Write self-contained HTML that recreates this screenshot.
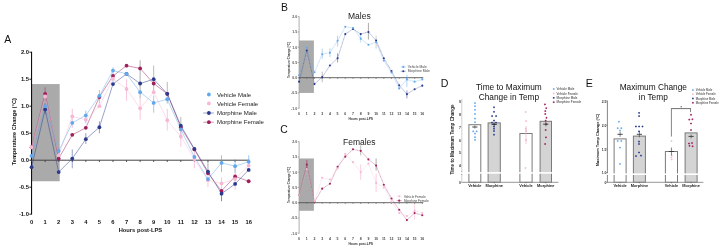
<!DOCTYPE html>
<html><head><meta charset="utf-8"><style>
html,body{margin:0;padding:0;background:#fff;width:720px;height:247px;overflow:hidden}
svg{display:block;filter:blur(0.3px)}
text{font-family:"Liberation Sans", sans-serif}
</style></head><body>
<svg width="720" height="247" viewBox="0 0 720 247">
<rect width="720" height="247" fill="#fff"/>
<rect x="31.55" y="84.06" width="28.14" height="97.20" fill="#aaaaaa" stroke="none" stroke-width="0"/>
<line x1="31.55" y1="51.80" x2="31.55" y2="214.60" stroke="#111" stroke-width="1.1"/>
<line x1="29.35" y1="52.20" x2="31.55" y2="52.20" stroke="#111" stroke-width="0.9"/>
<text x="28.95" y="54.30" font-size="5.8" text-anchor="end" font-weight="bold" fill="#111">2.0</text>
<line x1="29.35" y1="79.20" x2="31.55" y2="79.20" stroke="#111" stroke-width="0.9"/>
<text x="28.95" y="81.30" font-size="5.8" text-anchor="end" font-weight="bold" fill="#111">1.5</text>
<line x1="29.35" y1="106.20" x2="31.55" y2="106.20" stroke="#111" stroke-width="0.9"/>
<text x="28.95" y="108.30" font-size="5.8" text-anchor="end" font-weight="bold" fill="#111">1.0</text>
<line x1="29.35" y1="133.20" x2="31.55" y2="133.20" stroke="#111" stroke-width="0.9"/>
<text x="28.95" y="135.30" font-size="5.8" text-anchor="end" font-weight="bold" fill="#111">0.5</text>
<line x1="29.35" y1="160.20" x2="31.55" y2="160.20" stroke="#111" stroke-width="0.9"/>
<text x="28.95" y="162.30" font-size="5.8" text-anchor="end" font-weight="bold" fill="#111">0.0</text>
<line x1="29.35" y1="187.20" x2="31.55" y2="187.20" stroke="#111" stroke-width="0.9"/>
<text x="28.95" y="189.30" font-size="5.8" text-anchor="end" font-weight="bold" fill="#111">-0.5</text>
<line x1="29.35" y1="214.20" x2="31.55" y2="214.20" stroke="#111" stroke-width="0.9"/>
<text x="28.95" y="216.30" font-size="5.8" text-anchor="end" font-weight="bold" fill="#111">-1.0</text>
<line x1="31.55" y1="160.20" x2="249.67" y2="160.20" stroke="#444" stroke-width="1.0"/>
<line x1="31.55" y1="160.20" x2="31.55" y2="162.00" stroke="#333" stroke-width="0.8"/>
<text x="31.55" y="224.10" font-size="5.8" text-anchor="middle" font-weight="bold" fill="#111">0</text>
<line x1="45.12" y1="160.20" x2="45.12" y2="162.00" stroke="#333" stroke-width="0.8"/>
<text x="45.12" y="224.10" font-size="5.8" text-anchor="middle" font-weight="bold" fill="#111">1</text>
<line x1="58.69" y1="160.20" x2="58.69" y2="162.00" stroke="#333" stroke-width="0.8"/>
<text x="58.69" y="224.10" font-size="5.8" text-anchor="middle" font-weight="bold" fill="#111">2</text>
<line x1="72.26" y1="160.20" x2="72.26" y2="162.00" stroke="#333" stroke-width="0.8"/>
<text x="72.26" y="224.10" font-size="5.8" text-anchor="middle" font-weight="bold" fill="#111">3</text>
<line x1="85.83" y1="160.20" x2="85.83" y2="162.00" stroke="#333" stroke-width="0.8"/>
<text x="85.83" y="224.10" font-size="5.8" text-anchor="middle" font-weight="bold" fill="#111">4</text>
<line x1="99.40" y1="160.20" x2="99.40" y2="162.00" stroke="#333" stroke-width="0.8"/>
<text x="99.40" y="224.10" font-size="5.8" text-anchor="middle" font-weight="bold" fill="#111">5</text>
<line x1="112.97" y1="160.20" x2="112.97" y2="162.00" stroke="#333" stroke-width="0.8"/>
<text x="112.97" y="224.10" font-size="5.8" text-anchor="middle" font-weight="bold" fill="#111">6</text>
<line x1="126.54" y1="160.20" x2="126.54" y2="162.00" stroke="#333" stroke-width="0.8"/>
<text x="126.54" y="224.10" font-size="5.8" text-anchor="middle" font-weight="bold" fill="#111">7</text>
<line x1="140.11" y1="160.20" x2="140.11" y2="162.00" stroke="#333" stroke-width="0.8"/>
<text x="140.11" y="224.10" font-size="5.8" text-anchor="middle" font-weight="bold" fill="#111">8</text>
<line x1="153.68" y1="160.20" x2="153.68" y2="162.00" stroke="#333" stroke-width="0.8"/>
<text x="153.68" y="224.10" font-size="5.8" text-anchor="middle" font-weight="bold" fill="#111">9</text>
<line x1="167.25" y1="160.20" x2="167.25" y2="162.00" stroke="#333" stroke-width="0.8"/>
<text x="167.25" y="224.10" font-size="5.8" text-anchor="middle" font-weight="bold" fill="#111">10</text>
<line x1="180.82" y1="160.20" x2="180.82" y2="162.00" stroke="#333" stroke-width="0.8"/>
<text x="180.82" y="224.10" font-size="5.8" text-anchor="middle" font-weight="bold" fill="#111">11</text>
<line x1="194.39" y1="160.20" x2="194.39" y2="162.00" stroke="#333" stroke-width="0.8"/>
<text x="194.39" y="224.10" font-size="5.8" text-anchor="middle" font-weight="bold" fill="#111">12</text>
<line x1="207.96" y1="160.20" x2="207.96" y2="162.00" stroke="#333" stroke-width="0.8"/>
<text x="207.96" y="224.10" font-size="5.8" text-anchor="middle" font-weight="bold" fill="#111">13</text>
<line x1="221.53" y1="160.20" x2="221.53" y2="162.00" stroke="#333" stroke-width="0.8"/>
<text x="221.53" y="224.10" font-size="5.8" text-anchor="middle" font-weight="bold" fill="#111">14</text>
<line x1="235.10" y1="160.20" x2="235.10" y2="162.00" stroke="#333" stroke-width="0.8"/>
<text x="235.10" y="224.10" font-size="5.8" text-anchor="middle" font-weight="bold" fill="#111">15</text>
<line x1="248.67" y1="160.20" x2="248.67" y2="162.00" stroke="#333" stroke-width="0.8"/>
<text x="248.67" y="224.10" font-size="5.8" text-anchor="middle" font-weight="bold" fill="#111">16</text>
<text x="140.41" y="231.90" font-size="5.75" text-anchor="middle" font-weight="bold" fill="#111">Hours post-LPS</text>
<text x="16.30" y="131.70" font-size="5.6" text-anchor="middle" font-weight="bold" fill="#111" transform="rotate(-90 16.3 131.7)">Temperature Change (°C)</text>
<text x="4.20" y="43.40" font-size="10.5" text-anchor="start" font-weight="normal" fill="#111">A</text>
<line x1="45.12" y1="87.30" x2="45.12" y2="100.80" stroke="#a01e5c" stroke-width="0.5"/>
<line x1="45.12" y1="103.50" x2="45.12" y2="114.30" stroke="#2a3a8e" stroke-width="0.5"/>
<line x1="72.26" y1="108.90" x2="72.26" y2="127.80" stroke="#f6b9d4" stroke-width="0.9"/>
<line x1="72.26" y1="149.40" x2="72.26" y2="168.30" stroke="#2a3a8e" stroke-width="0.5"/>
<line x1="85.83" y1="110.52" x2="85.83" y2="123.48" stroke="#62a8ec" stroke-width="0.6"/>
<line x1="85.83" y1="133.20" x2="85.83" y2="144.00" stroke="#2a3a8e" stroke-width="0.5"/>
<line x1="99.40" y1="121.32" x2="99.40" y2="133.20" stroke="#2a3a8e" stroke-width="0.5"/>
<line x1="99.40" y1="90.00" x2="99.40" y2="103.50" stroke="#999" stroke-width="0.6"/>
<line x1="112.97" y1="67.32" x2="112.97" y2="81.90" stroke="#62a8ec" stroke-width="0.6"/>
<line x1="126.54" y1="79.20" x2="126.54" y2="100.80" stroke="#f6b9d4" stroke-width="0.8"/>
<line x1="140.11" y1="60.30" x2="140.11" y2="98.10" stroke="#777" stroke-width="0.6"/>
<line x1="140.11" y1="98.10" x2="140.11" y2="119.70" stroke="#f6b9d4" stroke-width="0.8"/>
<line x1="153.68" y1="65.70" x2="153.68" y2="91.08" stroke="#888" stroke-width="0.6"/>
<line x1="153.68" y1="95.40" x2="153.68" y2="112.68" stroke="#62a8ec" stroke-width="0.6"/>
<line x1="167.25" y1="81.90" x2="167.25" y2="103.50" stroke="#888" stroke-width="0.6"/>
<line x1="167.25" y1="108.90" x2="167.25" y2="130.50" stroke="#f6b9d4" stroke-width="0.8"/>
<line x1="180.82" y1="117.00" x2="180.82" y2="138.60" stroke="#888" stroke-width="0.6"/>
<line x1="180.82" y1="127.80" x2="180.82" y2="146.70" stroke="#f6b9d4" stroke-width="0.8"/>
<line x1="194.39" y1="149.40" x2="194.39" y2="168.30" stroke="#f6b9d4" stroke-width="0.8"/>
<line x1="207.96" y1="171.00" x2="207.96" y2="187.20" stroke="#f6b9d4" stroke-width="0.8"/>
<line x1="221.53" y1="155.34" x2="221.53" y2="172.08" stroke="#62a8ec" stroke-width="0.7"/>
<line x1="221.53" y1="177.48" x2="221.53" y2="188.82" stroke="#f6b9d4" stroke-width="0.8"/>
<line x1="221.53" y1="189.90" x2="221.53" y2="201.24" stroke="#2a3a8e" stroke-width="0.6"/>
<line x1="207.96" y1="160.20" x2="207.96" y2="175.32" stroke="#777" stroke-width="0.6"/>
<line x1="235.10" y1="168.30" x2="235.10" y2="189.90" stroke="#f6b9d4" stroke-width="0.8"/>
<line x1="235.10" y1="159.12" x2="235.10" y2="172.62" stroke="#62a8ec" stroke-width="0.6"/>
<line x1="248.67" y1="155.34" x2="248.67" y2="167.22" stroke="#62a8ec" stroke-width="0.6"/>
<polyline points="31.55,147.24 45.12,93.78 58.69,158.58 72.26,134.82 85.83,127.80 99.40,97.02 112.97,75.96 126.54,65.70 140.11,68.40 153.68,83.52 167.25,93.78 180.82,127.26 194.39,149.40 207.96,173.16 221.53,190.98 235.10,176.40 248.67,181.26" fill="none" stroke="#a01e5c" stroke-width="0.6" stroke-opacity="0.8"/>
<polyline points="31.55,167.22 45.12,109.44 58.69,172.08 72.26,158.58 85.83,139.14 99.40,127.26 112.97,84.06 126.54,73.80 140.11,83.52 153.68,79.20 167.25,93.78 180.82,125.64 194.39,148.86 207.96,171.54 221.53,193.68 235.10,183.96 248.67,169.92" fill="none" stroke="#2a3a8e" stroke-width="0.6" stroke-opacity="0.8"/>
<polyline points="31.55,147.24 45.12,96.48 58.69,155.34 72.26,116.46 85.83,119.70 99.40,106.20 112.97,78.66 126.54,88.92 140.11,108.36 153.68,92.16 167.25,120.24 180.82,136.44 194.39,159.12 207.96,180.18 221.53,183.42 235.10,179.10 248.67,165.60" fill="none" stroke="#f6b9d4" stroke-width="0.6" stroke-opacity="0.8"/>
<polyline points="31.55,155.88 45.12,106.20 58.69,151.02 72.26,122.94 85.83,115.38 99.40,95.94 112.97,70.56 126.54,73.80 140.11,92.16 153.68,102.96 167.25,99.18 180.82,129.42 194.39,156.96 207.96,179.10 221.53,162.90 235.10,166.14 248.67,161.82" fill="none" stroke="#62a8ec" stroke-width="0.6" stroke-opacity="0.8"/>
<circle cx="31.55" cy="147.24" r="1.9" fill="#a01e5c"/>
<circle cx="45.12" cy="93.78" r="1.9" fill="#a01e5c"/>
<circle cx="58.69" cy="158.58" r="1.9" fill="#a01e5c"/>
<circle cx="72.26" cy="134.82" r="1.9" fill="#a01e5c"/>
<circle cx="85.83" cy="127.80" r="1.9" fill="#a01e5c"/>
<circle cx="99.40" cy="97.02" r="1.9" fill="#a01e5c"/>
<circle cx="112.97" cy="75.96" r="1.9" fill="#a01e5c"/>
<circle cx="126.54" cy="65.70" r="1.9" fill="#a01e5c"/>
<circle cx="140.11" cy="68.40" r="1.9" fill="#a01e5c"/>
<circle cx="153.68" cy="83.52" r="1.9" fill="#a01e5c"/>
<circle cx="167.25" cy="93.78" r="1.9" fill="#a01e5c"/>
<circle cx="180.82" cy="127.26" r="1.9" fill="#a01e5c"/>
<circle cx="194.39" cy="149.40" r="1.9" fill="#a01e5c"/>
<circle cx="207.96" cy="173.16" r="1.9" fill="#a01e5c"/>
<circle cx="221.53" cy="190.98" r="1.9" fill="#a01e5c"/>
<circle cx="235.10" cy="176.40" r="1.9" fill="#a01e5c"/>
<circle cx="248.67" cy="181.26" r="1.9" fill="#a01e5c"/>
<circle cx="31.55" cy="167.22" r="1.9" fill="#2a3a8e"/>
<circle cx="45.12" cy="109.44" r="1.9" fill="#2a3a8e"/>
<circle cx="58.69" cy="172.08" r="1.9" fill="#2a3a8e"/>
<circle cx="72.26" cy="158.58" r="1.9" fill="#2a3a8e"/>
<circle cx="85.83" cy="139.14" r="1.9" fill="#2a3a8e"/>
<circle cx="99.40" cy="127.26" r="1.9" fill="#2a3a8e"/>
<circle cx="112.97" cy="84.06" r="1.9" fill="#2a3a8e"/>
<circle cx="126.54" cy="73.80" r="1.9" fill="#2a3a8e"/>
<circle cx="140.11" cy="83.52" r="1.9" fill="#2a3a8e"/>
<circle cx="153.68" cy="79.20" r="1.9" fill="#2a3a8e"/>
<circle cx="167.25" cy="93.78" r="1.9" fill="#2a3a8e"/>
<circle cx="180.82" cy="125.64" r="1.9" fill="#2a3a8e"/>
<circle cx="194.39" cy="148.86" r="1.9" fill="#2a3a8e"/>
<circle cx="207.96" cy="171.54" r="1.9" fill="#2a3a8e"/>
<circle cx="221.53" cy="193.68" r="1.9" fill="#2a3a8e"/>
<circle cx="235.10" cy="183.96" r="1.9" fill="#2a3a8e"/>
<circle cx="248.67" cy="169.92" r="1.9" fill="#2a3a8e"/>
<circle cx="31.55" cy="147.24" r="1.9" fill="#f6b9d4"/>
<circle cx="45.12" cy="96.48" r="1.9" fill="#f6b9d4"/>
<circle cx="58.69" cy="155.34" r="1.9" fill="#f6b9d4"/>
<circle cx="72.26" cy="116.46" r="1.9" fill="#f6b9d4"/>
<circle cx="85.83" cy="119.70" r="1.9" fill="#f6b9d4"/>
<circle cx="99.40" cy="106.20" r="1.9" fill="#f6b9d4"/>
<circle cx="112.97" cy="78.66" r="1.9" fill="#f6b9d4"/>
<circle cx="126.54" cy="88.92" r="1.9" fill="#f6b9d4"/>
<circle cx="140.11" cy="108.36" r="1.9" fill="#f6b9d4"/>
<circle cx="153.68" cy="92.16" r="1.9" fill="#f6b9d4"/>
<circle cx="167.25" cy="120.24" r="1.9" fill="#f6b9d4"/>
<circle cx="180.82" cy="136.44" r="1.9" fill="#f6b9d4"/>
<circle cx="194.39" cy="159.12" r="1.9" fill="#f6b9d4"/>
<circle cx="207.96" cy="180.18" r="1.9" fill="#f6b9d4"/>
<circle cx="221.53" cy="183.42" r="1.9" fill="#f6b9d4"/>
<circle cx="235.10" cy="179.10" r="1.9" fill="#f6b9d4"/>
<circle cx="248.67" cy="165.60" r="1.9" fill="#f6b9d4"/>
<circle cx="31.55" cy="155.88" r="1.9" fill="#62a8ec"/>
<circle cx="45.12" cy="106.20" r="1.9" fill="#62a8ec"/>
<circle cx="58.69" cy="151.02" r="1.9" fill="#62a8ec"/>
<circle cx="72.26" cy="122.94" r="1.9" fill="#62a8ec"/>
<circle cx="85.83" cy="115.38" r="1.9" fill="#62a8ec"/>
<circle cx="99.40" cy="95.94" r="1.9" fill="#62a8ec"/>
<circle cx="112.97" cy="70.56" r="1.9" fill="#62a8ec"/>
<circle cx="126.54" cy="73.80" r="1.9" fill="#62a8ec"/>
<circle cx="140.11" cy="92.16" r="1.9" fill="#62a8ec"/>
<circle cx="153.68" cy="102.96" r="1.9" fill="#62a8ec"/>
<circle cx="167.25" cy="99.18" r="1.9" fill="#62a8ec"/>
<circle cx="180.82" cy="129.42" r="1.9" fill="#62a8ec"/>
<circle cx="194.39" cy="156.96" r="1.9" fill="#62a8ec"/>
<circle cx="207.96" cy="179.10" r="1.9" fill="#62a8ec"/>
<circle cx="221.53" cy="162.90" r="1.9" fill="#62a8ec"/>
<circle cx="235.10" cy="166.14" r="1.9" fill="#62a8ec"/>
<circle cx="248.67" cy="161.82" r="1.9" fill="#62a8ec"/>
<circle cx="208.90" cy="94.50" r="1.9" fill="#62a8ec"/>
<text x="216.90" y="96.70" font-size="6.05" text-anchor="start" font-weight="normal" fill="#222">Vehicle Male</text>
<circle cx="208.90" cy="103.40" r="1.9" fill="#f6b9d4"/>
<text x="216.90" y="105.60" font-size="6.05" text-anchor="start" font-weight="normal" fill="#222">Vehicle Female</text>
<line x1="203.30" y1="113.00" x2="213.80" y2="113.00" stroke="#2a3a8e" stroke-width="0.9" stroke-opacity="0.55"/>
<circle cx="208.90" cy="113.00" r="1.9" fill="#2a3a8e"/>
<text x="216.90" y="115.20" font-size="6.05" text-anchor="start" font-weight="normal" fill="#222">Morphine Male</text>
<line x1="203.30" y1="122.20" x2="213.80" y2="122.20" stroke="#a01e5c" stroke-width="0.9" stroke-opacity="0.55"/>
<circle cx="208.90" cy="122.20" r="1.9" fill="#a01e5c"/>
<text x="216.90" y="124.40" font-size="6.05" text-anchor="start" font-weight="normal" fill="#222">Morphine Female</text>
<rect x="299.10" y="40.49" width="14.80" height="52.46" fill="#aaaaaa" stroke="none" stroke-width="0"/>
<line x1="299.10" y1="16.40" x2="299.10" y2="108.50" stroke="#999" stroke-width="0.8"/>
<line x1="297.70" y1="16.70" x2="299.10" y2="16.70" stroke="#777" stroke-width="0.6"/>
<text x="297.10" y="18.00" font-size="3.5" text-anchor="end" font-weight="bold" fill="#555">2.0</text>
<line x1="297.70" y1="31.95" x2="299.10" y2="31.95" stroke="#777" stroke-width="0.6"/>
<text x="297.10" y="33.25" font-size="3.5" text-anchor="end" font-weight="bold" fill="#555">1.5</text>
<line x1="297.70" y1="47.20" x2="299.10" y2="47.20" stroke="#777" stroke-width="0.6"/>
<text x="297.10" y="48.50" font-size="3.5" text-anchor="end" font-weight="bold" fill="#555">1.0</text>
<line x1="297.70" y1="62.45" x2="299.10" y2="62.45" stroke="#777" stroke-width="0.6"/>
<text x="297.10" y="63.75" font-size="3.5" text-anchor="end" font-weight="bold" fill="#555">0.5</text>
<line x1="297.70" y1="77.70" x2="299.10" y2="77.70" stroke="#777" stroke-width="0.6"/>
<text x="297.10" y="79.00" font-size="3.5" text-anchor="end" font-weight="bold" fill="#555">0.0</text>
<line x1="297.70" y1="92.95" x2="299.10" y2="92.95" stroke="#777" stroke-width="0.6"/>
<text x="297.10" y="94.25" font-size="3.5" text-anchor="end" font-weight="bold" fill="#555">-0.5</text>
<line x1="297.70" y1="108.20" x2="299.10" y2="108.20" stroke="#777" stroke-width="0.6"/>
<text x="297.10" y="109.50" font-size="3.5" text-anchor="end" font-weight="bold" fill="#555">-1.0</text>
<line x1="299.10" y1="77.70" x2="423.30" y2="77.70" stroke="#555" stroke-width="0.9"/>
<line x1="299.10" y1="77.70" x2="299.10" y2="78.90" stroke="#555" stroke-width="0.6"/>
<text x="299.10" y="115.20" font-size="3.5" text-anchor="middle" font-weight="bold" fill="#444">0</text>
<line x1="306.80" y1="77.70" x2="306.80" y2="78.90" stroke="#555" stroke-width="0.6"/>
<text x="306.80" y="115.20" font-size="3.5" text-anchor="middle" font-weight="bold" fill="#444">1</text>
<line x1="314.50" y1="77.70" x2="314.50" y2="78.90" stroke="#555" stroke-width="0.6"/>
<text x="314.50" y="115.20" font-size="3.5" text-anchor="middle" font-weight="bold" fill="#444">2</text>
<line x1="322.20" y1="77.70" x2="322.20" y2="78.90" stroke="#555" stroke-width="0.6"/>
<text x="322.20" y="115.20" font-size="3.5" text-anchor="middle" font-weight="bold" fill="#444">3</text>
<line x1="329.90" y1="77.70" x2="329.90" y2="78.90" stroke="#555" stroke-width="0.6"/>
<text x="329.90" y="115.20" font-size="3.5" text-anchor="middle" font-weight="bold" fill="#444">4</text>
<line x1="337.60" y1="77.70" x2="337.60" y2="78.90" stroke="#555" stroke-width="0.6"/>
<text x="337.60" y="115.20" font-size="3.5" text-anchor="middle" font-weight="bold" fill="#444">5</text>
<line x1="345.30" y1="77.70" x2="345.30" y2="78.90" stroke="#555" stroke-width="0.6"/>
<text x="345.30" y="115.20" font-size="3.5" text-anchor="middle" font-weight="bold" fill="#444">6</text>
<line x1="353.00" y1="77.70" x2="353.00" y2="78.90" stroke="#555" stroke-width="0.6"/>
<text x="353.00" y="115.20" font-size="3.5" text-anchor="middle" font-weight="bold" fill="#444">7</text>
<line x1="360.70" y1="77.70" x2="360.70" y2="78.90" stroke="#555" stroke-width="0.6"/>
<text x="360.70" y="115.20" font-size="3.5" text-anchor="middle" font-weight="bold" fill="#444">8</text>
<line x1="368.40" y1="77.70" x2="368.40" y2="78.90" stroke="#555" stroke-width="0.6"/>
<text x="368.40" y="115.20" font-size="3.5" text-anchor="middle" font-weight="bold" fill="#444">9</text>
<line x1="376.10" y1="77.70" x2="376.10" y2="78.90" stroke="#555" stroke-width="0.6"/>
<text x="376.10" y="115.20" font-size="3.5" text-anchor="middle" font-weight="bold" fill="#444">10</text>
<line x1="383.80" y1="77.70" x2="383.80" y2="78.90" stroke="#555" stroke-width="0.6"/>
<text x="383.80" y="115.20" font-size="3.5" text-anchor="middle" font-weight="bold" fill="#444">11</text>
<line x1="391.50" y1="77.70" x2="391.50" y2="78.90" stroke="#555" stroke-width="0.6"/>
<text x="391.50" y="115.20" font-size="3.5" text-anchor="middle" font-weight="bold" fill="#444">12</text>
<line x1="399.20" y1="77.70" x2="399.20" y2="78.90" stroke="#555" stroke-width="0.6"/>
<text x="399.20" y="115.20" font-size="3.5" text-anchor="middle" font-weight="bold" fill="#444">13</text>
<line x1="406.90" y1="77.70" x2="406.90" y2="78.90" stroke="#555" stroke-width="0.6"/>
<text x="406.90" y="115.20" font-size="3.5" text-anchor="middle" font-weight="bold" fill="#444">14</text>
<line x1="414.60" y1="77.70" x2="414.60" y2="78.90" stroke="#555" stroke-width="0.6"/>
<text x="414.60" y="115.20" font-size="3.5" text-anchor="middle" font-weight="bold" fill="#444">15</text>
<line x1="422.30" y1="77.70" x2="422.30" y2="78.90" stroke="#555" stroke-width="0.6"/>
<text x="422.30" y="115.20" font-size="3.5" text-anchor="middle" font-weight="bold" fill="#444">16</text>
<text x="360.70" y="119.90" font-size="3.25" text-anchor="middle" font-weight="bold" fill="#333">Hours post-LPS</text>
<text x="290.00" y="60.00" font-size="3.0" text-anchor="middle" font-weight="bold" fill="#333" transform="rotate(-90 290.0 60.0)">Temperature Change (°C)</text>
<text x="280.90" y="11.00" font-size="10.4" text-anchor="start" font-weight="normal" fill="#111">B</text>
<text x="359.30" y="18.90" font-size="8.5" text-anchor="middle" font-weight="normal" fill="#222">Males</text>
<line x1="368.40" y1="22.80" x2="368.40" y2="39.58" stroke="#555" stroke-width="0.5"/>
<line x1="337.60" y1="53.30" x2="337.60" y2="62.45" stroke="#2a3a8e" stroke-width="0.5"/>
<line x1="322.20" y1="71.60" x2="322.20" y2="82.28" stroke="#777" stroke-width="0.5"/>
<line x1="376.10" y1="35.61" x2="376.10" y2="48.73" stroke="#888" stroke-width="0.4"/>
<line x1="406.90" y1="74.65" x2="406.90" y2="86.85" stroke="#62a8ec" stroke-width="0.5"/>
<line x1="322.20" y1="48.73" x2="322.20" y2="58.79" stroke="#62a8ec" stroke-width="0.5"/>
<line x1="329.90" y1="48.42" x2="329.90" y2="56.96" stroke="#62a8ec" stroke-width="0.5"/>
<line x1="337.60" y1="35.61" x2="337.60" y2="46.59" stroke="#62a8ec" stroke-width="0.5"/>
<line x1="406.90" y1="90.51" x2="406.90" y2="98.44" stroke="#2a3a8e" stroke-width="0.5"/>
<line x1="360.70" y1="35.00" x2="360.70" y2="42.63" stroke="#62a8ec" stroke-width="0.4"/>
<polyline points="299.10,81.67 306.80,50.56 314.50,84.11 322.20,77.09 329.90,65.50 337.60,58.18 345.30,34.09 353.00,28.90 360.70,34.09 368.40,31.95 376.10,40.49 383.80,58.18 391.50,70.99 399.20,85.33 406.90,94.17 414.60,89.29 422.30,85.63" fill="none" stroke="#2a3a8e" stroke-width="0.5" stroke-dasharray="1.0,0.4" stroke-opacity="0.8"/>
<polyline points="299.10,75.26 306.80,47.51 314.50,72.21 322.20,54.22 329.90,52.69 337.60,40.80 345.30,26.77 353.00,27.99 360.70,38.66 368.40,44.76 376.10,42.32 383.80,60.62 391.50,72.52 399.20,88.38 406.90,79.53 414.60,81.67 422.30,79.53" fill="none" stroke="#62a8ec" stroke-width="0.5" stroke-dasharray="1.0,0.4" stroke-opacity="0.8"/>
<circle cx="299.10" cy="81.67" r="1.05" fill="#2a3a8e"/>
<circle cx="306.80" cy="50.56" r="1.05" fill="#2a3a8e"/>
<circle cx="314.50" cy="84.11" r="1.05" fill="#2a3a8e"/>
<circle cx="322.20" cy="77.09" r="1.05" fill="#2a3a8e"/>
<circle cx="329.90" cy="65.50" r="1.05" fill="#2a3a8e"/>
<circle cx="337.60" cy="58.18" r="1.05" fill="#2a3a8e"/>
<circle cx="345.30" cy="34.09" r="1.05" fill="#2a3a8e"/>
<circle cx="353.00" cy="28.90" r="1.05" fill="#2a3a8e"/>
<circle cx="360.70" cy="34.09" r="1.05" fill="#2a3a8e"/>
<circle cx="368.40" cy="31.95" r="1.05" fill="#2a3a8e"/>
<circle cx="376.10" cy="40.49" r="1.05" fill="#2a3a8e"/>
<circle cx="383.80" cy="58.18" r="1.05" fill="#2a3a8e"/>
<circle cx="391.50" cy="70.99" r="1.05" fill="#2a3a8e"/>
<circle cx="399.20" cy="85.33" r="1.05" fill="#2a3a8e"/>
<circle cx="406.90" cy="94.17" r="1.05" fill="#2a3a8e"/>
<circle cx="414.60" cy="89.29" r="1.05" fill="#2a3a8e"/>
<circle cx="422.30" cy="85.63" r="1.05" fill="#2a3a8e"/>
<circle cx="299.10" cy="75.26" r="1.05" fill="#62a8ec"/>
<circle cx="306.80" cy="47.51" r="1.05" fill="#62a8ec"/>
<circle cx="314.50" cy="72.21" r="1.05" fill="#62a8ec"/>
<circle cx="322.20" cy="54.22" r="1.05" fill="#62a8ec"/>
<circle cx="329.90" cy="52.69" r="1.05" fill="#62a8ec"/>
<circle cx="337.60" cy="40.80" r="1.05" fill="#62a8ec"/>
<circle cx="345.30" cy="26.77" r="1.05" fill="#62a8ec"/>
<circle cx="353.00" cy="27.99" r="1.05" fill="#62a8ec"/>
<circle cx="360.70" cy="38.66" r="1.05" fill="#62a8ec"/>
<circle cx="368.40" cy="44.76" r="1.05" fill="#62a8ec"/>
<circle cx="376.10" cy="42.32" r="1.05" fill="#62a8ec"/>
<circle cx="383.80" cy="60.62" r="1.05" fill="#62a8ec"/>
<circle cx="391.50" cy="72.52" r="1.05" fill="#62a8ec"/>
<circle cx="399.20" cy="88.38" r="1.05" fill="#62a8ec"/>
<circle cx="406.90" cy="79.53" r="1.05" fill="#62a8ec"/>
<circle cx="414.60" cy="81.67" r="1.05" fill="#62a8ec"/>
<circle cx="422.30" cy="79.53" r="1.05" fill="#62a8ec"/>
<line x1="400.70" y1="66.90" x2="405.90" y2="66.90" stroke="#62a8ec" stroke-width="0.6" stroke-opacity="0.6"/>
<circle cx="403.30" cy="66.90" r="1.05" fill="#62a8ec"/>
<text x="407.80" y="68.10" font-size="3.35" text-anchor="start" font-weight="normal" fill="#444">Vehicle Male</text>
<line x1="400.70" y1="71.25" x2="405.90" y2="71.25" stroke="#2a3a8e" stroke-width="0.6" stroke-opacity="0.6"/>
<circle cx="403.30" cy="71.25" r="1.05" fill="#2a3a8e"/>
<text x="407.80" y="72.45" font-size="3.35" text-anchor="start" font-weight="normal" fill="#444">Morphine Male</text>
<rect x="299.10" y="158.47" width="14.80" height="52.31" fill="#aaaaaa" stroke="none" stroke-width="0"/>
<line x1="299.10" y1="141.40" x2="299.10" y2="233.50" stroke="#999" stroke-width="0.8"/>
<line x1="297.70" y1="141.70" x2="299.10" y2="141.70" stroke="#777" stroke-width="0.6"/>
<text x="297.10" y="143.00" font-size="3.5" text-anchor="end" font-weight="bold" fill="#555">2.0</text>
<line x1="297.70" y1="156.95" x2="299.10" y2="156.95" stroke="#777" stroke-width="0.6"/>
<text x="297.10" y="158.25" font-size="3.5" text-anchor="end" font-weight="bold" fill="#555">1.5</text>
<line x1="297.70" y1="172.20" x2="299.10" y2="172.20" stroke="#777" stroke-width="0.6"/>
<text x="297.10" y="173.50" font-size="3.5" text-anchor="end" font-weight="bold" fill="#555">1.0</text>
<line x1="297.70" y1="187.45" x2="299.10" y2="187.45" stroke="#777" stroke-width="0.6"/>
<text x="297.10" y="188.75" font-size="3.5" text-anchor="end" font-weight="bold" fill="#555">0.5</text>
<line x1="297.70" y1="202.70" x2="299.10" y2="202.70" stroke="#777" stroke-width="0.6"/>
<text x="297.10" y="204.00" font-size="3.5" text-anchor="end" font-weight="bold" fill="#555">0.0</text>
<line x1="297.70" y1="217.95" x2="299.10" y2="217.95" stroke="#777" stroke-width="0.6"/>
<text x="297.10" y="219.25" font-size="3.5" text-anchor="end" font-weight="bold" fill="#555">-0.5</text>
<line x1="297.70" y1="233.20" x2="299.10" y2="233.20" stroke="#777" stroke-width="0.6"/>
<text x="297.10" y="234.50" font-size="3.5" text-anchor="end" font-weight="bold" fill="#555">-1.0</text>
<line x1="299.10" y1="202.70" x2="423.30" y2="202.70" stroke="#555" stroke-width="0.9"/>
<line x1="299.10" y1="202.70" x2="299.10" y2="203.90" stroke="#555" stroke-width="0.6"/>
<text x="299.10" y="240.20" font-size="3.5" text-anchor="middle" font-weight="bold" fill="#444">0</text>
<line x1="306.80" y1="202.70" x2="306.80" y2="203.90" stroke="#555" stroke-width="0.6"/>
<text x="306.80" y="240.20" font-size="3.5" text-anchor="middle" font-weight="bold" fill="#444">1</text>
<line x1="314.50" y1="202.70" x2="314.50" y2="203.90" stroke="#555" stroke-width="0.6"/>
<text x="314.50" y="240.20" font-size="3.5" text-anchor="middle" font-weight="bold" fill="#444">2</text>
<line x1="322.20" y1="202.70" x2="322.20" y2="203.90" stroke="#555" stroke-width="0.6"/>
<text x="322.20" y="240.20" font-size="3.5" text-anchor="middle" font-weight="bold" fill="#444">3</text>
<line x1="329.90" y1="202.70" x2="329.90" y2="203.90" stroke="#555" stroke-width="0.6"/>
<text x="329.90" y="240.20" font-size="3.5" text-anchor="middle" font-weight="bold" fill="#444">4</text>
<line x1="337.60" y1="202.70" x2="337.60" y2="203.90" stroke="#555" stroke-width="0.6"/>
<text x="337.60" y="240.20" font-size="3.5" text-anchor="middle" font-weight="bold" fill="#444">5</text>
<line x1="345.30" y1="202.70" x2="345.30" y2="203.90" stroke="#555" stroke-width="0.6"/>
<text x="345.30" y="240.20" font-size="3.5" text-anchor="middle" font-weight="bold" fill="#444">6</text>
<line x1="353.00" y1="202.70" x2="353.00" y2="203.90" stroke="#555" stroke-width="0.6"/>
<text x="353.00" y="240.20" font-size="3.5" text-anchor="middle" font-weight="bold" fill="#444">7</text>
<line x1="360.70" y1="202.70" x2="360.70" y2="203.90" stroke="#555" stroke-width="0.6"/>
<text x="360.70" y="240.20" font-size="3.5" text-anchor="middle" font-weight="bold" fill="#444">8</text>
<line x1="368.40" y1="202.70" x2="368.40" y2="203.90" stroke="#555" stroke-width="0.6"/>
<text x="368.40" y="240.20" font-size="3.5" text-anchor="middle" font-weight="bold" fill="#444">9</text>
<line x1="376.10" y1="202.70" x2="376.10" y2="203.90" stroke="#555" stroke-width="0.6"/>
<text x="376.10" y="240.20" font-size="3.5" text-anchor="middle" font-weight="bold" fill="#444">10</text>
<line x1="383.80" y1="202.70" x2="383.80" y2="203.90" stroke="#555" stroke-width="0.6"/>
<text x="383.80" y="240.20" font-size="3.5" text-anchor="middle" font-weight="bold" fill="#444">11</text>
<line x1="391.50" y1="202.70" x2="391.50" y2="203.90" stroke="#555" stroke-width="0.6"/>
<text x="391.50" y="240.20" font-size="3.5" text-anchor="middle" font-weight="bold" fill="#444">12</text>
<line x1="399.20" y1="202.70" x2="399.20" y2="203.90" stroke="#555" stroke-width="0.6"/>
<text x="399.20" y="240.20" font-size="3.5" text-anchor="middle" font-weight="bold" fill="#444">13</text>
<line x1="406.90" y1="202.70" x2="406.90" y2="203.90" stroke="#555" stroke-width="0.6"/>
<text x="406.90" y="240.20" font-size="3.5" text-anchor="middle" font-weight="bold" fill="#444">14</text>
<line x1="414.60" y1="202.70" x2="414.60" y2="203.90" stroke="#555" stroke-width="0.6"/>
<text x="414.60" y="240.20" font-size="3.5" text-anchor="middle" font-weight="bold" fill="#444">15</text>
<line x1="422.30" y1="202.70" x2="422.30" y2="203.90" stroke="#555" stroke-width="0.6"/>
<text x="422.30" y="240.20" font-size="3.5" text-anchor="middle" font-weight="bold" fill="#444">16</text>
<text x="360.70" y="244.90" font-size="3.25" text-anchor="middle" font-weight="bold" fill="#333">Hours post-LPS</text>
<text x="290.00" y="185.00" font-size="3.0" text-anchor="middle" font-weight="bold" fill="#333" transform="rotate(-90 290.0 185.0)">Temperature Change (°C)</text>
<text x="280.20" y="133.00" font-size="10.4" text-anchor="start" font-weight="normal" fill="#111">C</text>
<text x="359.30" y="144.80" font-size="8.5" text-anchor="middle" font-weight="normal" fill="#222">Females</text>
<line x1="306.80" y1="160.00" x2="306.80" y2="170.67" stroke="#a01e5c" stroke-width="0.5"/>
<line x1="360.70" y1="164.57" x2="360.70" y2="179.82" stroke="#f6b9d4" stroke-width="0.7"/>
<line x1="376.10" y1="173.72" x2="376.10" y2="192.02" stroke="#f6b9d4" stroke-width="0.7"/>
<line x1="376.10" y1="158.47" x2="376.10" y2="170.67" stroke="#555" stroke-width="0.5"/>
<line x1="414.60" y1="204.22" x2="414.60" y2="219.47" stroke="#f6b9d4" stroke-width="0.6"/>
<line x1="360.70" y1="145.36" x2="360.70" y2="155.42" stroke="#555" stroke-width="0.4"/>
<polyline points="299.10,195.07 306.80,164.57 314.50,201.78 322.20,188.67 329.90,183.79 337.60,166.71 345.30,156.64 353.00,149.32 360.70,150.85 368.40,159.39 376.10,165.49 383.80,184.70 391.50,198.43 399.20,209.71 406.90,220.08 414.60,213.07 422.30,215.20" fill="none" stroke="#a01e5c" stroke-width="0.5" stroke-dasharray="1.0,0.4" stroke-opacity="0.8"/>
<polyline points="299.10,195.07 306.80,169.15 314.50,201.17 322.20,177.69 329.90,179.52 337.60,168.54 345.30,153.90 353.00,162.13 360.70,172.20 368.40,163.66 376.10,182.88 383.80,187.45 391.50,201.48 399.20,213.07 406.90,216.12 414.60,210.63 422.30,213.07" fill="none" stroke="#f6b9d4" stroke-width="0.5" stroke-dasharray="1.0,0.4" stroke-opacity="0.8"/>
<circle cx="299.10" cy="195.07" r="1.05" fill="#a01e5c"/>
<circle cx="306.80" cy="164.57" r="1.05" fill="#a01e5c"/>
<circle cx="314.50" cy="201.78" r="1.05" fill="#a01e5c"/>
<circle cx="322.20" cy="188.67" r="1.05" fill="#a01e5c"/>
<circle cx="329.90" cy="183.79" r="1.05" fill="#a01e5c"/>
<circle cx="337.60" cy="166.71" r="1.05" fill="#a01e5c"/>
<circle cx="345.30" cy="156.64" r="1.05" fill="#a01e5c"/>
<circle cx="353.00" cy="149.32" r="1.05" fill="#a01e5c"/>
<circle cx="360.70" cy="150.85" r="1.05" fill="#a01e5c"/>
<circle cx="368.40" cy="159.39" r="1.05" fill="#a01e5c"/>
<circle cx="376.10" cy="165.49" r="1.05" fill="#a01e5c"/>
<circle cx="383.80" cy="184.70" r="1.05" fill="#a01e5c"/>
<circle cx="391.50" cy="198.43" r="1.05" fill="#a01e5c"/>
<circle cx="399.20" cy="209.71" r="1.05" fill="#a01e5c"/>
<circle cx="406.90" cy="220.08" r="1.05" fill="#a01e5c"/>
<circle cx="414.60" cy="213.07" r="1.05" fill="#a01e5c"/>
<circle cx="422.30" cy="215.20" r="1.05" fill="#a01e5c"/>
<circle cx="299.10" cy="195.07" r="1.05" fill="#f6b9d4"/>
<circle cx="306.80" cy="169.15" r="1.05" fill="#f6b9d4"/>
<circle cx="314.50" cy="201.17" r="1.05" fill="#f6b9d4"/>
<circle cx="322.20" cy="177.69" r="1.05" fill="#f6b9d4"/>
<circle cx="329.90" cy="179.52" r="1.05" fill="#f6b9d4"/>
<circle cx="337.60" cy="168.54" r="1.05" fill="#f6b9d4"/>
<circle cx="345.30" cy="153.90" r="1.05" fill="#f6b9d4"/>
<circle cx="353.00" cy="162.13" r="1.05" fill="#f6b9d4"/>
<circle cx="360.70" cy="172.20" r="1.05" fill="#f6b9d4"/>
<circle cx="368.40" cy="163.66" r="1.05" fill="#f6b9d4"/>
<circle cx="376.10" cy="182.88" r="1.05" fill="#f6b9d4"/>
<circle cx="383.80" cy="187.45" r="1.05" fill="#f6b9d4"/>
<circle cx="391.50" cy="201.48" r="1.05" fill="#f6b9d4"/>
<circle cx="399.20" cy="213.07" r="1.05" fill="#f6b9d4"/>
<circle cx="406.90" cy="216.12" r="1.05" fill="#f6b9d4"/>
<circle cx="414.60" cy="210.63" r="1.05" fill="#f6b9d4"/>
<circle cx="422.30" cy="213.07" r="1.05" fill="#f6b9d4"/>
<line x1="396.60" y1="196.30" x2="401.80" y2="196.30" stroke="#f6b9d4" stroke-width="0.6" stroke-opacity="0.6"/>
<circle cx="399.20" cy="196.30" r="1.05" fill="#f6b9d4"/>
<text x="403.90" y="197.50" font-size="3.2" text-anchor="start" font-weight="normal" fill="#444">Vehicle Female</text>
<line x1="396.60" y1="200.65" x2="401.80" y2="200.65" stroke="#a01e5c" stroke-width="0.6" stroke-opacity="0.6"/>
<circle cx="399.20" cy="200.65" r="1.05" fill="#a01e5c"/>
<text x="403.90" y="201.85" font-size="3.2" text-anchor="start" font-weight="normal" fill="#444">Morphine Female</text>
<text x="440.80" y="87.40" font-size="10.6" text-anchor="start" font-weight="normal" fill="#111">D</text>
<text x="508.90" y="89.60" font-size="8.3" text-anchor="middle" font-weight="normal" fill="#111">Time to Maximum</text>
<text x="508.90" y="99.60" font-size="8.3" text-anchor="middle" font-weight="normal" fill="#111">Change in Temp</text>
<rect x="468.90" y="124.70" width="11.90" height="57.60" fill="#ffffff" stroke="#7a7a7a" stroke-width="1.0"/>
<rect x="488.10" y="122.90" width="12.20" height="59.40" fill="#d4d4d4" stroke="#7a7a7a" stroke-width="1.0"/>
<rect x="519.90" y="133.50" width="12.20" height="48.80" fill="#ffffff" stroke="#7a7a7a" stroke-width="1.0"/>
<rect x="540.10" y="121.30" width="11.40" height="61.00" fill="#d4d4d4" stroke="#7a7a7a" stroke-width="1.0"/>
<path d="M474.10,103.10h1.8M475.00,102.20v1.8" stroke="#62a8ec" stroke-width="0.9"/>
<path d="M474.10,106.20h1.8M475.00,105.30v1.8" stroke="#62a8ec" stroke-width="0.9"/>
<path d="M474.10,109.80h1.8M475.00,108.90v1.8" stroke="#62a8ec" stroke-width="0.9"/>
<path d="M474.10,114.00h1.8M475.00,113.10v1.8" stroke="#62a8ec" stroke-width="0.9"/>
<path d="M474.10,118.60h1.8M475.00,117.70v1.8" stroke="#62a8ec" stroke-width="0.9"/>
<path d="M474.10,122.20h1.8M475.00,121.30v1.8" stroke="#62a8ec" stroke-width="0.9"/>
<path d="M472.30,131.40h1.8M473.20,130.50v1.8" stroke="#62a8ec" stroke-width="0.9"/>
<path d="M475.70,131.40h1.8M476.60,130.50v1.8" stroke="#62a8ec" stroke-width="0.9"/>
<path d="M474.10,133.60h1.8M475.00,132.70v1.8" stroke="#62a8ec" stroke-width="0.9"/>
<path d="M474.10,137.20h1.8M475.00,136.30v1.8" stroke="#62a8ec" stroke-width="0.9"/>
<path d="M474.10,139.90h1.8M475.00,139.00v1.8" stroke="#62a8ec" stroke-width="0.9"/>
<path d="M493.10,107.30h1.8M494.00,106.40v1.8" stroke="#2a3a8e" stroke-width="0.9"/>
<path d="M493.10,111.80h1.8M494.00,110.90v1.8" stroke="#2a3a8e" stroke-width="0.9"/>
<path d="M491.20,116.10h1.8M492.10,115.20v1.8" stroke="#2a3a8e" stroke-width="0.9"/>
<path d="M495.20,116.10h1.8M496.10,115.20v1.8" stroke="#2a3a8e" stroke-width="0.9"/>
<path d="M493.10,120.60h1.8M494.00,119.70v1.8" stroke="#2a3a8e" stroke-width="0.9"/>
<path d="M491.10,122.60h1.8M492.00,121.70v1.8" stroke="#2a3a8e" stroke-width="0.9"/>
<path d="M495.10,122.60h1.8M496.00,121.70v1.8" stroke="#2a3a8e" stroke-width="0.9"/>
<path d="M493.10,124.20h1.8M494.00,123.30v1.8" stroke="#2a3a8e" stroke-width="0.9"/>
<path d="M493.10,126.60h1.8M494.00,125.70v1.8" stroke="#2a3a8e" stroke-width="0.9"/>
<path d="M493.10,128.70h1.8M494.00,127.80v1.8" stroke="#2a3a8e" stroke-width="0.9"/>
<path d="M493.10,131.00h1.8M494.00,130.10v1.8" stroke="#2a3a8e" stroke-width="0.9"/>
<path d="M493.10,134.70h1.8M494.00,133.80v1.8" stroke="#2a3a8e" stroke-width="0.9"/>
<path d="M524.79,112.00h1.8M525.69,111.10v1.8" stroke="#f6b9d4" stroke-width="0.9"/>
<path d="M525.15,121.00h1.8M526.05,120.10v1.8" stroke="#f6b9d4" stroke-width="0.9"/>
<path d="M524.94,128.60h1.8M525.84,127.70v1.8" stroke="#f6b9d4" stroke-width="0.9"/>
<path d="M525.22,131.00h1.8M526.12,130.10v1.8" stroke="#f6b9d4" stroke-width="0.9"/>
<path d="M525.25,140.00h1.8M526.15,139.10v1.8" stroke="#f6b9d4" stroke-width="0.9"/>
<path d="M524.58,168.00h1.8M525.48,167.10v1.8" stroke="#f6b9d4" stroke-width="0.9"/>
<path d="M544.02,104.40h1.8M544.92,103.50v1.8" stroke="#a01e5c" stroke-width="0.9"/>
<path d="M545.34,108.20h1.8M546.24,107.30v1.8" stroke="#a01e5c" stroke-width="0.9"/>
<path d="M544.41,111.10h1.8M545.31,110.20v1.8" stroke="#a01e5c" stroke-width="0.9"/>
<path d="M544.37,114.00h1.8M545.27,113.10v1.8" stroke="#a01e5c" stroke-width="0.9"/>
<path d="M545.59,117.80h1.8M546.49,116.90v1.8" stroke="#a01e5c" stroke-width="0.9"/>
<path d="M544.75,120.70h1.8M545.65,119.80v1.8" stroke="#a01e5c" stroke-width="0.9"/>
<path d="M545.34,124.20h1.8M546.24,123.30v1.8" stroke="#a01e5c" stroke-width="0.9"/>
<path d="M544.76,130.00h1.8M545.66,129.10v1.8" stroke="#a01e5c" stroke-width="0.9"/>
<path d="M545.02,137.40h1.8M545.92,136.50v1.8" stroke="#a01e5c" stroke-width="0.9"/>
<path d="M544.24,144.00h1.8M545.14,143.10v1.8" stroke="#a01e5c" stroke-width="0.9"/>
<line x1="474.85" y1="125.40" x2="474.85" y2="128.60" stroke="#333" stroke-width="0.6"/>
<line x1="472.25" y1="127.00" x2="477.45" y2="127.00" stroke="#333" stroke-width="0.9"/>
<line x1="494.20" y1="122.70" x2="494.20" y2="126.30" stroke="#333" stroke-width="0.6"/>
<line x1="491.60" y1="124.50" x2="496.80" y2="124.50" stroke="#333" stroke-width="0.9"/>
<line x1="526.00" y1="126.00" x2="526.00" y2="144.20" stroke="#e8a8c4" stroke-width="0.6"/>
<line x1="545.80" y1="122.00" x2="545.80" y2="126.40" stroke="#333" stroke-width="0.6"/>
<line x1="543.20" y1="124.20" x2="548.40" y2="124.20" stroke="#333" stroke-width="0.9"/>
<line x1="461.80" y1="99.00" x2="461.80" y2="182.30" stroke="#c4c4c4" stroke-width="0.8"/>
<line x1="461.30" y1="182.30" x2="558.50" y2="182.30" stroke="#8a8a8a" stroke-width="0.9"/>
<line x1="460.60" y1="101.00" x2="461.80" y2="101.00" stroke="#c4c4c4" stroke-width="0.6"/>
<text x="460.80" y="102.60" font-size="3.4" text-anchor="end" font-weight="bold" fill="#333">9</text>
<line x1="460.60" y1="114.00" x2="461.80" y2="114.00" stroke="#c4c4c4" stroke-width="0.6"/>
<text x="460.80" y="115.60" font-size="3.4" text-anchor="end" font-weight="bold" fill="#333">8</text>
<line x1="460.60" y1="126.90" x2="461.80" y2="126.90" stroke="#c4c4c4" stroke-width="0.6"/>
<text x="460.80" y="128.50" font-size="3.4" text-anchor="end" font-weight="bold" fill="#333">7</text>
<line x1="460.60" y1="139.90" x2="461.80" y2="139.90" stroke="#c4c4c4" stroke-width="0.6"/>
<text x="460.80" y="141.50" font-size="3.4" text-anchor="end" font-weight="bold" fill="#333">6</text>
<line x1="460.60" y1="152.80" x2="461.80" y2="152.80" stroke="#c4c4c4" stroke-width="0.6"/>
<text x="460.80" y="154.40" font-size="3.4" text-anchor="end" font-weight="bold" fill="#333">5</text>
<line x1="460.60" y1="165.80" x2="461.80" y2="165.80" stroke="#c4c4c4" stroke-width="0.6"/>
<text x="460.80" y="167.40" font-size="3.4" text-anchor="end" font-weight="bold" fill="#333">4</text>
<line x1="460.60" y1="182.30" x2="461.80" y2="182.30" stroke="#c4c4c4" stroke-width="0.6"/>
<text x="460.80" y="183.90" font-size="3.4" text-anchor="end" font-weight="bold" fill="#333">0</text>
<rect x="462.40" y="172.10" width="96.70" height="1.60" fill="#fff" stroke="none" stroke-width="0"/>
<rect x="461.20" y="171.70" width="1.20" height="2.40" fill="#fff" stroke="none" stroke-width="0"/>
<circle cx="461.80" cy="171.60" r="0.45" fill="#555"/>
<circle cx="461.80" cy="174.20" r="0.45" fill="#555"/>
<line x1="474.85" y1="182.30" x2="474.85" y2="183.20" stroke="#444" stroke-width="0.7"/>
<text x="474.85" y="186.90" font-size="3.9" text-anchor="middle" font-weight="bold" fill="#222">Vehicle</text>
<line x1="494.20" y1="182.30" x2="494.20" y2="183.20" stroke="#444" stroke-width="0.7"/>
<text x="494.20" y="186.90" font-size="3.9" text-anchor="middle" font-weight="bold" fill="#222">Morphine</text>
<line x1="526.00" y1="182.30" x2="526.00" y2="183.20" stroke="#444" stroke-width="0.7"/>
<text x="526.00" y="186.90" font-size="3.9" text-anchor="middle" font-weight="bold" fill="#222">Vehicle</text>
<line x1="545.80" y1="182.30" x2="545.80" y2="183.20" stroke="#444" stroke-width="0.7"/>
<text x="545.80" y="186.90" font-size="3.9" text-anchor="middle" font-weight="bold" fill="#222">Morphine</text>
<text x="453.50" y="139.50" font-size="4.6" text-anchor="middle" font-weight="bold" fill="#222" transform="rotate(-90 453.5 139.5)">Time to Maximum Temp Change</text>
<rect x="552.90" y="88.20" width="1.6" height="1.6" fill="#62a8ec"/>
<text x="556.50" y="90.10" font-size="3.0" text-anchor="start" font-weight="bold" fill="#666">Vehicle Male</text>
<rect x="552.90" y="92.60" width="1.6" height="1.6" fill="#f6b9d4"/>
<text x="556.50" y="94.50" font-size="3.0" text-anchor="start" font-weight="bold" fill="#666">Vehicle Female</text>
<rect x="552.90" y="97.00" width="1.6" height="1.6" fill="#2a3a8e"/>
<text x="556.50" y="98.90" font-size="3.0" text-anchor="start" font-weight="bold" fill="#666">Morphine Male</text>
<rect x="552.90" y="101.40" width="1.6" height="1.6" fill="#a01e5c"/>
<text x="556.50" y="103.30" font-size="3.0" text-anchor="start" font-weight="bold" fill="#666">Morphine Female</text>
<text x="585.80" y="87.40" font-size="10.6" text-anchor="start" font-weight="normal" fill="#111">E</text>
<text x="653.30" y="89.60" font-size="8.3" text-anchor="middle" font-weight="normal" fill="#111">Maximum Change</text>
<text x="653.30" y="99.60" font-size="8.3" text-anchor="middle" font-weight="normal" fill="#111">in Temp</text>
<rect x="614.10" y="138.90" width="12.00" height="43.40" fill="#ffffff" stroke="#7a7a7a" stroke-width="1.0"/>
<rect x="633.40" y="136.10" width="12.00" height="46.20" fill="#d4d4d4" stroke="#7a7a7a" stroke-width="1.0"/>
<rect x="665.40" y="151.50" width="12.10" height="30.80" fill="#ffffff" stroke="#7a7a7a" stroke-width="1.0"/>
<rect x="685.10" y="132.90" width="12.00" height="49.40" fill="#d4d4d4" stroke="#7a7a7a" stroke-width="1.0"/>
<path d="M618.00,121.70h1.8M618.90,120.80v1.8" stroke="#62a8ec" stroke-width="0.9"/>
<path d="M616.80,128.20h1.8M617.70,127.30v1.8" stroke="#62a8ec" stroke-width="0.9"/>
<path d="M620.40,128.20h1.8M621.30,127.30v1.8" stroke="#62a8ec" stroke-width="0.9"/>
<path d="M619.10,130.60h1.8M620.00,129.70v1.8" stroke="#62a8ec" stroke-width="0.9"/>
<path d="M616.80,141.00h1.8M617.70,140.10v1.8" stroke="#62a8ec" stroke-width="0.9"/>
<path d="M620.40,141.00h1.8M621.30,140.10v1.8" stroke="#62a8ec" stroke-width="0.9"/>
<path d="M619.10,147.60h1.8M620.00,146.70v1.8" stroke="#62a8ec" stroke-width="0.9"/>
<path d="M619.10,163.90h1.8M620.00,163.00v1.8" stroke="#62a8ec" stroke-width="0.9"/>
<path d="M638.20,112.90h1.8M639.10,112.00v1.8" stroke="#2a3a8e" stroke-width="0.9"/>
<path d="M638.20,116.10h1.8M639.10,115.20v1.8" stroke="#2a3a8e" stroke-width="0.9"/>
<path d="M635.00,126.50h1.8M635.90,125.60v1.8" stroke="#2a3a8e" stroke-width="0.9"/>
<path d="M638.20,126.50h1.8M639.10,125.60v1.8" stroke="#2a3a8e" stroke-width="0.9"/>
<path d="M641.60,126.50h1.8M642.50,125.60v1.8" stroke="#2a3a8e" stroke-width="0.9"/>
<path d="M638.10,131.40h1.8M639.00,130.50v1.8" stroke="#2a3a8e" stroke-width="0.9"/>
<path d="M638.10,141.60h1.8M639.00,140.70v1.8" stroke="#2a3a8e" stroke-width="0.9"/>
<path d="M638.10,144.00h1.8M639.00,143.10v1.8" stroke="#2a3a8e" stroke-width="0.9"/>
<path d="M638.10,152.50h1.8M639.00,151.60v1.8" stroke="#2a3a8e" stroke-width="0.9"/>
<path d="M635.10,156.10h1.8M636.00,155.20v1.8" stroke="#2a3a8e" stroke-width="0.9"/>
<path d="M640.10,155.60h1.8M641.00,154.70v1.8" stroke="#2a3a8e" stroke-width="0.9"/>
<path d="M670.63,141.00h1.8M671.53,140.10v1.8" stroke="#f6b9d4" stroke-width="0.9"/>
<path d="M670.87,155.50h1.8M671.77,154.60v1.8" stroke="#f6b9d4" stroke-width="0.9"/>
<path d="M670.52,157.50h1.8M671.42,156.60v1.8" stroke="#f6b9d4" stroke-width="0.9"/>
<path d="M670.74,159.50h1.8M671.64,158.60v1.8" stroke="#f6b9d4" stroke-width="0.9"/>
<path d="M690.10,114.80h1.8M691.00,113.90v1.8" stroke="#a01e5c" stroke-width="0.9"/>
<path d="M688.40,119.60h1.8M689.30,118.70v1.8" stroke="#a01e5c" stroke-width="0.9"/>
<path d="M691.50,119.30h1.8M692.40,118.40v1.8" stroke="#a01e5c" stroke-width="0.9"/>
<path d="M690.10,123.50h1.8M691.00,122.60v1.8" stroke="#a01e5c" stroke-width="0.9"/>
<path d="M690.10,130.00h1.8M691.00,129.10v1.8" stroke="#a01e5c" stroke-width="0.9"/>
<path d="M688.10,143.50h1.8M689.00,142.60v1.8" stroke="#a01e5c" stroke-width="0.9"/>
<path d="M691.10,143.00h1.8M692.00,142.10v1.8" stroke="#a01e5c" stroke-width="0.9"/>
<path d="M688.60,145.80h1.8M689.50,144.90v1.8" stroke="#a01e5c" stroke-width="0.9"/>
<path d="M691.70,146.30h1.8M692.60,145.40v1.8" stroke="#a01e5c" stroke-width="0.9"/>
<line x1="620.10" y1="131.80" x2="620.10" y2="136.80" stroke="#333" stroke-width="0.6"/>
<line x1="617.50" y1="134.30" x2="622.70" y2="134.30" stroke="#333" stroke-width="0.9"/>
<line x1="639.40" y1="131.30" x2="639.40" y2="137.30" stroke="#333" stroke-width="0.6"/>
<line x1="636.80" y1="134.30" x2="642.00" y2="134.30" stroke="#333" stroke-width="0.9"/>
<line x1="671.45" y1="147.50" x2="671.45" y2="155.50" stroke="#333" stroke-width="0.6"/>
<line x1="668.85" y1="151.50" x2="674.05" y2="151.50" stroke="#333" stroke-width="0.9"/>
<line x1="691.10" y1="134.40" x2="691.10" y2="138.40" stroke="#333" stroke-width="0.6"/>
<line x1="688.50" y1="136.40" x2="693.70" y2="136.40" stroke="#333" stroke-width="0.9"/>
<line x1="607.40" y1="100.60" x2="607.40" y2="182.30" stroke="#666" stroke-width="0.8"/>
<line x1="606.90" y1="182.30" x2="703.40" y2="182.30" stroke="#8a8a8a" stroke-width="0.9"/>
<line x1="606.20" y1="101.00" x2="607.40" y2="101.00" stroke="#666" stroke-width="0.6"/>
<text x="606.40" y="102.60" font-size="3.4" text-anchor="end" font-weight="bold" fill="#333">2.5</text>
<line x1="606.20" y1="125.00" x2="607.40" y2="125.00" stroke="#666" stroke-width="0.6"/>
<text x="606.40" y="126.60" font-size="3.4" text-anchor="end" font-weight="bold" fill="#333">2.0</text>
<line x1="606.20" y1="149.00" x2="607.40" y2="149.00" stroke="#666" stroke-width="0.6"/>
<text x="606.40" y="150.60" font-size="3.4" text-anchor="end" font-weight="bold" fill="#333">1.5</text>
<line x1="606.20" y1="172.80" x2="607.40" y2="172.80" stroke="#666" stroke-width="0.6"/>
<text x="606.40" y="174.40" font-size="3.4" text-anchor="end" font-weight="bold" fill="#333">1.0</text>
<line x1="606.20" y1="182.30" x2="607.40" y2="182.30" stroke="#666" stroke-width="0.6"/>
<text x="606.40" y="183.90" font-size="3.4" text-anchor="end" font-weight="bold" fill="#333">0</text>
<rect x="608.00" y="173.40" width="96.00" height="1.60" fill="#fff" stroke="none" stroke-width="0"/>
<rect x="606.80" y="173.00" width="1.20" height="2.40" fill="#fff" stroke="none" stroke-width="0"/>
<circle cx="607.40" cy="172.90" r="0.45" fill="#555"/>
<circle cx="607.40" cy="175.50" r="0.45" fill="#555"/>
<line x1="620.10" y1="182.30" x2="620.10" y2="183.20" stroke="#444" stroke-width="0.7"/>
<text x="620.10" y="186.90" font-size="3.9" text-anchor="middle" font-weight="bold" fill="#222">Vehicle</text>
<line x1="639.40" y1="182.30" x2="639.40" y2="183.20" stroke="#444" stroke-width="0.7"/>
<text x="639.40" y="186.90" font-size="3.9" text-anchor="middle" font-weight="bold" fill="#222">Morphine</text>
<line x1="671.45" y1="182.30" x2="671.45" y2="183.20" stroke="#444" stroke-width="0.7"/>
<text x="671.45" y="186.90" font-size="3.9" text-anchor="middle" font-weight="bold" fill="#222">Vehicle</text>
<line x1="691.10" y1="182.30" x2="691.10" y2="183.20" stroke="#444" stroke-width="0.7"/>
<text x="691.10" y="186.90" font-size="3.9" text-anchor="middle" font-weight="bold" fill="#222">Morphine</text>
<text x="599.20" y="139.90" font-size="3.9" text-anchor="middle" font-weight="bold" fill="#222" transform="rotate(-90 599.2 139.9)">Maximum Temp Change (°C)</text>
<rect x="692.10" y="89.20" width="1.6" height="1.6" fill="#62a8ec"/>
<text x="695.70" y="91.10" font-size="2.8" text-anchor="start" font-weight="bold" fill="#666">Vehicle Male</text>
<rect x="692.10" y="93.45" width="1.6" height="1.6" fill="#f6b9d4"/>
<text x="695.70" y="95.35" font-size="2.8" text-anchor="start" font-weight="bold" fill="#666">Vehicle Female</text>
<rect x="692.10" y="97.70" width="1.6" height="1.6" fill="#2a3a8e"/>
<text x="695.70" y="99.60" font-size="2.8" text-anchor="start" font-weight="bold" fill="#666">Morphine Male</text>
<rect x="692.10" y="101.95" width="1.6" height="1.6" fill="#a01e5c"/>
<text x="695.70" y="103.85" font-size="2.8" text-anchor="start" font-weight="bold" fill="#666">Morphine Female</text>
<line x1="671.40" y1="108.60" x2="690.50" y2="108.60" stroke="#333" stroke-width="0.7"/>
<line x1="671.40" y1="108.30" x2="671.40" y2="136.50" stroke="#333" stroke-width="0.6"/>
<line x1="690.50" y1="108.30" x2="690.50" y2="112.10" stroke="#333" stroke-width="0.6"/>
<text x="681.20" y="108.80" font-size="3.6" text-anchor="middle" font-weight="bold" fill="#333">*</text>
</svg>
</body></html>
